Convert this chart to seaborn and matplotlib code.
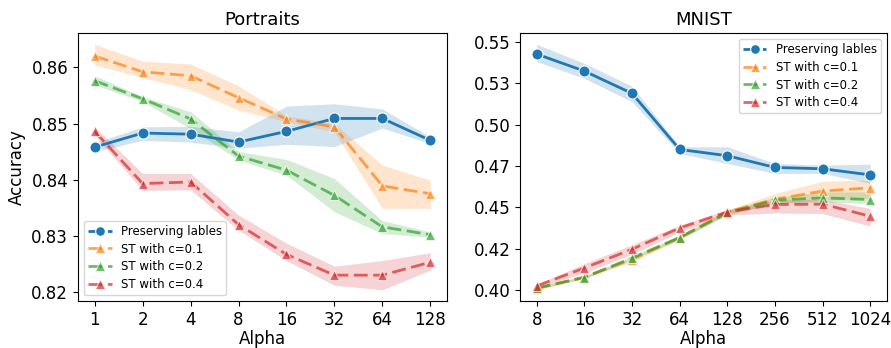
import numpy as np
import pandas as pd
import matplotlib
matplotlib.use("Agg")
import matplotlib.pyplot as plt
import seaborn as sns
from matplotlib.lines import Line2D

# Portraits
alpha_p = ['1', '2', '4', '8', '16', '32', '64', '128']
pres_p = [0.8458, 0.8483, 0.8481, 0.8467, 0.8486, 0.8509, 0.8509, 0.8470]
pres_p_lo = [0.8450, 0.8470, 0.8467, 0.8456, 0.8463, 0.8459, 0.8492, 0.8464]
pres_p_hi = [0.8466, 0.8494, 0.8495, 0.8485, 0.8531, 0.8535, 0.8526, 0.8476]
st1_p = [0.8620, 0.8592, 0.8585, 0.8546, 0.8508, 0.8494, 0.8389, 0.8375]
st1_p_lo = [0.8604, 0.8582, 0.8560, 0.8524, 0.8503, 0.8485, 0.8349, 0.8349]
st1_p_hi = [0.8641, 0.8611, 0.8606, 0.8567, 0.8514, 0.8500, 0.8426, 0.8399]
st2_p = [0.8576, 0.8544, 0.8508, 0.8442, 0.8417, 0.8372, 0.8316, 0.8302]
st2_p_lo = [0.8569, 0.8539, 0.8491, 0.8435, 0.8408, 0.8343, 0.8304, 0.8298]
st2_p_hi = [0.8585, 0.8548, 0.8521, 0.8450, 0.8436, 0.8402, 0.8327, 0.8307]
st4_p = [0.8486, 0.8393, 0.8396, 0.8320, 0.8267, 0.8230, 0.8230, 0.8253]
st4_p_lo = [0.8479, 0.8381, 0.8382, 0.8310, 0.8256, 0.8212, 0.8204, 0.8239]
st4_p_hi = [0.8494, 0.8411, 0.8411, 0.8337, 0.8287, 0.8246, 0.8256, 0.8270]

# MNIST
alpha_m = ['8', '16', '32', '64', '128', '256', '512', '1024']
pres_m = [0.5427, 0.5324, 0.5189, 0.4850, 0.4812, 0.4741, 0.4733, 0.4696]
pres_m_lo = [0.5381, 0.5280, 0.5139, 0.4826, 0.4765, 0.4705, 0.4705, 0.4644]
pres_m_hi = [0.5486, 0.5371, 0.5233, 0.4866, 0.4866, 0.4765, 0.4755, 0.4761]
st1_m = [0.4008, 0.4079, 0.4184, 0.4317, 0.4472, 0.4549, 0.4598, 0.4618]
st1_m_lo = [0.3998, 0.4070, 0.4170, 0.4305, 0.4460, 0.4523, 0.4543, 0.4553]
st1_m_hi = [0.4018, 0.4088, 0.4195, 0.4328, 0.4484, 0.4583, 0.4658, 0.4664]
st2_m = [0.4012, 0.4075, 0.4194, 0.4317, 0.4466, 0.4543, 0.4557, 0.4547]
st2_m_lo = [0.4004, 0.4068, 0.4183, 0.4305, 0.4452, 0.4525, 0.4533, 0.4523]
st2_m_hi = [0.4020, 0.4083, 0.4205, 0.4329, 0.4480, 0.4561, 0.4593, 0.4593]
st4_m = [0.4024, 0.4133, 0.4246, 0.4375, 0.4472, 0.4517, 0.4519, 0.4446]
st4_m_lo = [0.4014, 0.4103, 0.4216, 0.4351, 0.4452, 0.4466, 0.4462, 0.4386]
st4_m_hi = [0.4034, 0.4159, 0.4274, 0.4391, 0.4486, 0.4543, 0.4547, 0.4493]

labels = ['Preserving lables', 'ST with c=0.1', 'ST with c=0.2', 'ST with c=0.4']
pal = sns.color_palette('tab10')
colors = [pal[0], pal[1], pal[2], pal[3]]
markers = ['o', '^', '^', '^']
styles = ['-', (0, (5, 2)), (0, (5, 2)), (0, (5, 2))]
line_alpha = [1.0, 0.7, 0.7, 0.7]


def draw(ax, ticks, series, title, ylim, yticks, legend_loc):
    x = np.arange(len(ticks))
    for (y, lo, hi), c, m, ls, a in zip(series, colors, markers, styles, line_alpha):
        ax.fill_between(x, lo, hi, color=c, alpha=0.2, linewidth=0)
        sns.lineplot(x=x, y=y, ax=ax, color=c, marker=m, linestyle=ls, alpha=a,
                     markersize=8 if m == 'o' else 7, markeredgecolor='white',
                     markeredgewidth=0.8, linewidth=2)
    ax.set_xticks(x)
    ax.set_xticklabels(ticks)
    ax.set_ylim(*ylim)
    ax.set_yticks(yticks)
    ax.set_yticklabels(['%.2f' % v for v in yticks])
    ax.set_xlabel('Alpha', fontsize=12, labelpad=1)
    ax.set_title(title, fontsize=13)
    ax.tick_params(labelsize=12)
    handles = [Line2D([], [], color=c, marker=m, linestyle=(0, (5, 2)), linewidth=2,
                      alpha=a, markersize=7 if m == 'o' else 6.5,
                      markeredgecolor='white', markeredgewidth=0.8)
               for c, m, a in zip(colors, markers, line_alpha)]
    ax.legend(handles, labels, loc=legend_loc, fontsize=8.5,
              labelspacing=0.4, borderpad=0.35)


fig = plt.figure(figsize=(8.91, 3.48), dpi=100)
ax1 = fig.add_axes([0.0875, 0.135, 0.4142, 0.77])
ax2 = fig.add_axes([0.5836, 0.135, 0.4119, 0.77])

draw(ax1, alpha_p,
     [(pres_p, pres_p_lo, pres_p_hi), (st1_p, st1_p_lo, st1_p_hi),
      (st2_p, st2_p_lo, st2_p_hi), (st4_p, st4_p_lo, st4_p_hi)],
     'Portraits', (0.8184, 0.8661), [0.82, 0.83, 0.84, 0.85, 0.86], 'lower left')
ax1.set_ylabel('Accuracy', fontsize=12)

draw(ax2, alpha_m,
     [(pres_m, pres_m_lo, pres_m_hi), (st1_m, st1_m_lo, st1_m_hi),
      (st2_m, st2_m_lo, st2_m_hi), (st4_m, st4_m_lo, st4_m_hi)],
     'MNIST', (0.3933, 0.5554), [0.4, 0.425, 0.45, 0.475, 0.5, 0.525, 0.55], 'upper right')

fig.savefig('out.png', dpi=100)
